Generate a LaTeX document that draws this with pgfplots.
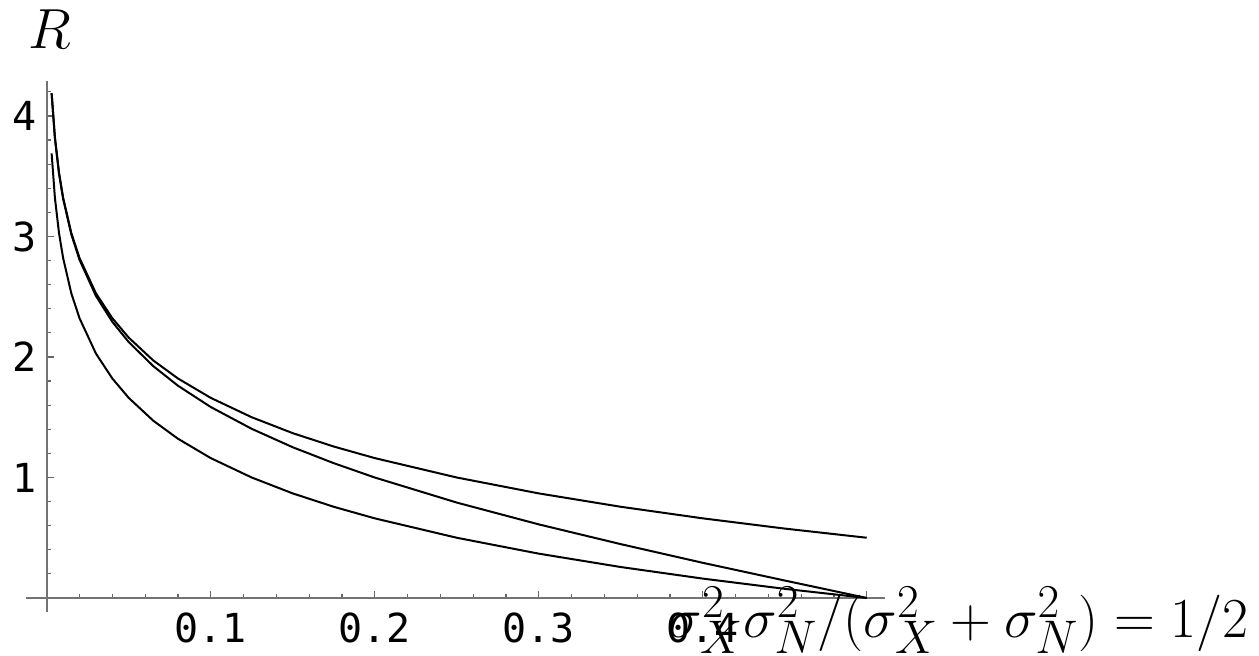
\documentclass[border=0pt]{standalone}
\usepackage{fontspec}
\setmonofont{DejaVu Sans Mono}
\usepackage{graphicx}
\usepackage{pgfplots}
\pgfplotsset{compat=1.18}

\begin{document}
\begin{tikzpicture}
% page = 1259x656 px at 0.5pt per px, data origin at px (46.7,598)
\useasboundingbox (-23.35pt,-29pt) rectangle (606.15pt,299pt);
\begin{axis}[
  at={(0,0)}, anchor=origin,
  x=820pt, y=60.25pt,
  axis lines=middle,
  axis line style={-, draw=black!55, line width=1.1pt},
  xmin=-0.0127, xmax=0.511, ymin=-0.115, ymax=4.29,
  xtick={0.1,0.2,0.3,0.4,0.5}, xticklabels={0.1,0.2,0.3,0.4,{}},
  minor xtick={0.02,0.04,0.06,0.08,0.12,0.14,0.16,0.18,0.22,0.24,0.26,0.28,
               0.32,0.34,0.36,0.38,0.42,0.44,0.46,0.48},
  ytick={1,2,3,4},
  minor ytick={0.2,0.4,0.6,0.8,1.2,1.4,1.6,1.8,2.2,2.4,2.6,2.8,
               3.2,3.4,3.6,3.8,4.2},
  tick align=inside,
  major tick length=3.5pt, minor tick length=2pt,
  every tick/.style={draw=black!60, line width=0.6pt},
  /pgf/number format/assume math mode=true,
  tick label style={font=\fontsize{20}{20}\selectfont\ttfamily, inner sep=0pt},
  x tick label style={anchor=north, yshift=-7pt},
  y tick label style={anchor=east, xshift=-4.85pt},
  clip=false,
]
% upper curve
\addplot[black, line width=1pt] coordinates {
  (0.003,4.190) (0.005,3.822) (0.0075,3.529) (0.01,3.322) (0.015,3.029)
  (0.02,2.822) (0.03,2.529) (0.04,2.322) (0.05,2.161) (0.065,1.971)
  (0.08,1.822) (0.1,1.661) (0.125,1.500) (0.15,1.368) (0.175,1.257)
  (0.2,1.161) (0.25,1.000) (0.3,0.868) (0.35,0.757) (0.4,0.661)
  (0.45,0.576) (0.5,0.500)};
% middle curve
\addplot[black, line width=1pt] coordinates {
  (0.003,4.188) (0.005,3.818) (0.0075,3.524) (0.01,3.315) (0.015,3.018)
  (0.02,2.807) (0.03,2.507) (0.04,2.292) (0.05,2.124) (0.065,1.924)
  (0.08,1.762) (0.1,1.585) (0.125,1.404) (0.15,1.251) (0.175,1.119)
  (0.2,1.000) (0.25,0.792) (0.3,0.611) (0.35,0.447) (0.4,0.292)
  (0.45,0.145) (0.5,0.000)};
% lower curve
\addplot[black, line width=1pt] coordinates {
  (0.003,3.690) (0.005,3.322) (0.0075,3.029) (0.01,2.822) (0.015,2.529)
  (0.02,2.322) (0.03,2.029) (0.04,1.822) (0.05,1.661) (0.065,1.471)
  (0.08,1.322) (0.1,1.161) (0.125,1.000) (0.15,0.868) (0.175,0.757)
  (0.2,0.661) (0.25,0.500) (0.3,0.368) (0.35,0.257) (0.4,0.161)
  (0.45,0.076) (0.5,0.000)};
\node[anchor=base west, inner sep=0pt, font=\fontsize{24.88}{28}\selectfont]
  at (axis cs:-0.0115,4.564) {\scalebox{1.137}{$R$}};
\node[anchor=base west, inner sep=0pt, font=\fontsize{24.88}{28}\selectfont]
  at (axis cs:0.379,-0.332)
  {\scalebox{1.136}{$\sigma_X^2\sigma_N^2/(\sigma_X^2+\sigma_N^2)=1/2$}};
\end{axis}
\end{tikzpicture}
\end{document}
